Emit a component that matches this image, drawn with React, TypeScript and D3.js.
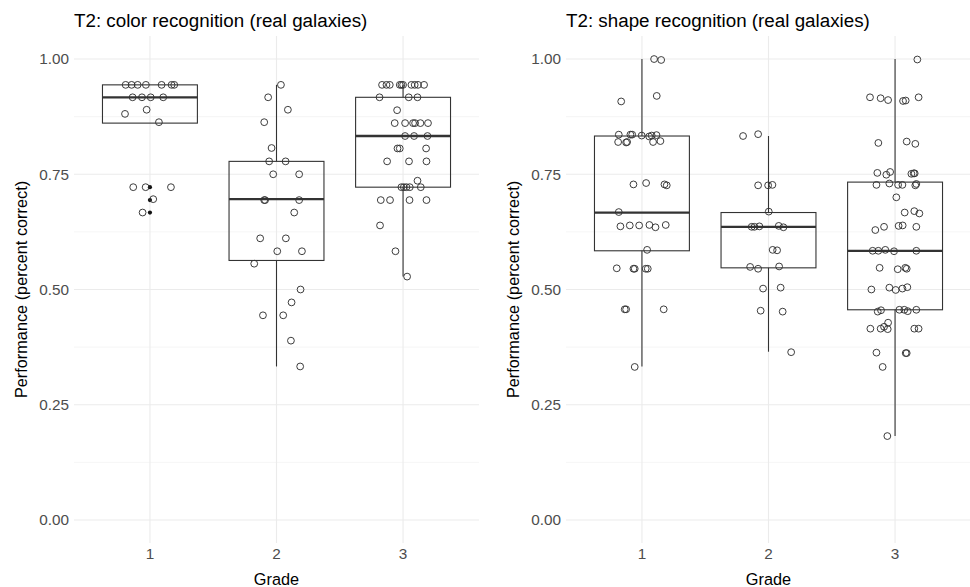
import React, { useEffect, useRef } from "react";
import * as d3 from "d3";

const grades = [1, 2, 3];
const yTicks = [0, 0.25, 0.5, 0.75, 1];
const yMinor = [0.125, 0.375, 0.625, 0.875];

// points: [jittered grade, performance]
const colorG1 = [
  [0.808, 0.944], [0.855, 0.944], [0.903, 0.944], [0.968, 0.944], [1.092, 0.944], [1.171, 0.944], [1.192, 0.944],
  [0.863, 0.917], [0.937, 0.917], [1.006, 0.917], [1.105, 0.917],
  [0.803, 0.881], [0.974, 0.89], [1.071, 0.863],
  [0.868, 0.722], [0.966, 0.722], [1.166, 0.722], [1.026, 0.696], [0.942, 0.667],
];
const colorG2 = [
  [2.035, 0.944], [1.934, 0.917], [2.09, 0.89], [1.903, 0.863], [1.961, 0.807],
  [1.942, 0.778], [2.072, 0.778], [1.974, 0.75], [2.179, 0.75],
  [1.903, 0.694], [1.91, 0.694], [2.179, 0.694], [2.14, 0.667],
  [1.871, 0.611], [2.074, 0.611], [2.006, 0.583], [2.201, 0.583], [1.824, 0.556],
  [2.19, 0.5], [2.119, 0.472], [1.893, 0.444], [2.053, 0.444], [2.114, 0.389], [2.187, 0.333],
];
const colorG3 = [
  [2.834, 0.944], [2.869, 0.944], [2.895, 0.944], [2.974, 0.944], [2.987, 0.944],
  [3.0, 0.944], [3.066, 0.944], [3.092, 0.944], [3.118, 0.944], [3.166, 0.944],
  [2.814, 0.917], [3.045, 0.917], [3.114, 0.917], [2.953, 0.889],
  [2.934, 0.861], [3.016, 0.861], [3.079, 0.861], [3.095, 0.861], [3.137, 0.861], [3.197, 0.861],
  [3.016, 0.833], [3.087, 0.833], [3.193, 0.833],
  [2.956, 0.806], [2.974, 0.806], [3.182, 0.806],
  [2.874, 0.778], [3.047, 0.778], [3.185, 0.778], [3.114, 0.736],
  [2.987, 0.722], [3.006, 0.722], [3.027, 0.722], [3.053, 0.722], [3.14, 0.722],
  [2.824, 0.694], [2.897, 0.694], [3.051, 0.694], [3.185, 0.694],
  [2.818, 0.639], [2.94, 0.583], [3.032, 0.528],
];
const colorOutliers = [[1, 0.722], [1, 0.694], [1, 0.667]];

const shapeG1 = [
  [1.096, 1.0], [1.152, 0.998], [1.117, 0.92], [0.836, 0.908],
  [0.817, 0.836], [0.909, 0.836], [0.923, 0.836], [0.998, 0.834], [1.057, 0.832], [1.077, 0.834], [1.115, 0.835],
  [0.812, 0.82], [0.875, 0.819], [0.883, 0.82], [1.088, 0.82], [1.146, 0.822],
  [0.933, 0.728], [1.033, 0.731], [1.178, 0.728], [1.196, 0.726],
  [0.817, 0.668],
  [0.83, 0.637], [0.904, 0.639], [0.978, 0.639], [1.059, 0.64], [1.107, 0.635], [1.188, 0.64],
  [1.041, 0.586],
  [0.801, 0.546], [0.933, 0.545], [0.943, 0.545], [1.03, 0.545], [1.046, 0.545],
  [0.864, 0.457], [0.875, 0.457], [1.172, 0.457], [0.943, 0.332],
];
const shapeG2 = [
  [1.799, 0.833], [1.918, 0.837],
  [1.918, 0.726], [1.997, 0.726], [2.031, 0.727], [2.002, 0.669],
  [1.867, 0.636], [1.889, 0.636], [1.928, 0.637], [2.081, 0.638], [2.118, 0.635],
  [2.033, 0.586], [2.068, 0.585],
  [1.855, 0.549], [1.918, 0.545], [2.084, 0.55],
  [1.957, 0.502], [2.096, 0.504], [1.938, 0.454], [2.112, 0.452], [2.179, 0.364],
];
const shapeG3 = [
  [3.176, 0.999],
  [2.802, 0.917], [2.886, 0.915], [2.945, 0.911], [3.063, 0.909], [3.084, 0.91], [3.186, 0.917],
  [2.868, 0.818], [3.092, 0.821], [3.16, 0.816],
  [2.86, 0.753], [2.931, 0.749], [2.961, 0.755], [3.129, 0.751], [3.147, 0.752], [3.155, 0.752],
  [2.853, 0.727], [2.955, 0.73], [3.024, 0.727], [3.058, 0.727], [3.16, 0.726], [3.168, 0.729],
  [3.01, 0.7], [3.076, 0.667], [3.152, 0.67], [3.192, 0.665],
  [2.844, 0.629], [2.913, 0.636], [3.028, 0.638], [3.06, 0.639], [3.168, 0.636],
  [2.823, 0.584], [2.868, 0.584], [2.923, 0.586], [2.992, 0.583], [3.168, 0.584],
  [2.878, 0.547], [3.021, 0.544], [3.081, 0.547], [3.092, 0.545],
  [2.813, 0.5], [2.955, 0.504], [3.005, 0.499], [3.058, 0.502], [3.097, 0.505],
  [2.863, 0.452], [2.889, 0.455], [3.034, 0.456], [3.073, 0.456], [3.1, 0.453], [3.168, 0.456],
  [2.805, 0.415], [2.886, 0.415], [2.913, 0.419], [2.945, 0.428], [2.942, 0.414], [3.152, 0.415], [3.186, 0.415],
  [2.853, 0.363], [3.084, 0.362], [3.092, 0.362], [2.902, 0.332], [2.939, 0.182],
];

// [lower whisker, q1, median, q3, upper whisker] per grade
const colorBoxes = [
  [0.861, 0.861, 0.917, 0.944, 0.944],
  [0.333, 0.563, 0.696, 0.778, 0.944],
  [0.528, 0.722, 0.833, 0.917, 0.944],
];
const shapeBoxes = [
  [0.333, 0.584, 0.667, 0.833, 1.0],
  [0.365, 0.547, 0.636, 0.667, 0.833],
  [0.182, 0.456, 0.584, 0.733, 1.0],
];

const panels = [
  { title: "T2: color recognition (real galaxies)", left: 74, points: [...colorG1, ...colorG2, ...colorG3], outliers: colorOutliers, boxes: colorBoxes },
  { title: "T2: shape recognition (real galaxies)", left: 566, points: [...shapeG1, ...shapeG2, ...shapeG3], outliers: [], boxes: shapeBoxes },
];

export default function App() {
  const ref = useRef<SVGSVGElement>(null);

  useEffect(() => {
    const svg = d3.select(ref.current);
    svg.selectAll("*").remove();
    const width = 405;
    const top = 36;
    const bottom = 543;
    const font = "'Liberation Sans', Arial, sans-serif";

    const y = d3.scaleLinear().domain([-0.05, 1.05]).range([bottom, top]);

    panels.forEach((p) => {
      const x = d3.scaleLinear().domain([0.4, 3.6]).range([p.left, p.left + width]);
      const g = svg.append("g");

      // grid
      g.selectAll(".minor").data(yMinor).enter().append("line")
        .attr("x1", p.left).attr("x2", p.left + width)
        .attr("y1", d => y(d)).attr("y2", d => y(d))
        .attr("stroke", "#f3f3f3").attr("stroke-width", 0.8);
      g.selectAll(".major").data(yTicks).enter().append("line")
        .attr("x1", p.left).attr("x2", p.left + width)
        .attr("y1", d => y(d)).attr("y2", d => y(d))
        .attr("stroke", "#ebebeb").attr("stroke-width", 1.1);
      g.selectAll(".vgrid").data(grades).enter().append("line")
        .attr("x1", d => x(d)).attr("x2", d => x(d))
        .attr("y1", top).attr("y2", bottom)
        .attr("stroke", "#ebebeb").attr("stroke-width", 1.1);

      // tick labels
      g.selectAll(".ylab").data(yTicks).enter().append("text")
        .attr("x", p.left - 5).attr("y", d => y(d)).attr("dy", "0.35em")
        .attr("text-anchor", "end").attr("font-family", font).attr("font-size", 15.3)
        .attr("fill", "#4d4d4d").text(d => d.toFixed(2));
      g.selectAll(".xlab").data(grades).enter().append("text")
        .attr("x", d => x(d)).attr("y", 559)
        .attr("text-anchor", "middle").attr("font-family", font).attr("font-size", 15.3)
        .attr("fill", "#4d4d4d").text(d => String(d));

      // titles
      g.append("text").attr("x", p.left).attr("y", 27)
        .attr("font-family", font).attr("font-size", 18.8).attr("fill", "#000").text(p.title);
      g.append("text").attr("x", p.left + width / 2).attr("y", 585)
        .attr("text-anchor", "middle").attr("font-family", font).attr("font-size", 16.3)
        .attr("fill", "#000").text("Grade");
      g.append("text")
        .attr("transform", `translate(${p.left - 47},${(top + bottom) / 2}) rotate(-90)`)
        .attr("text-anchor", "middle").attr("font-family", font).attr("font-size", 16.3)
        .attr("fill", "#000").text("Performance (percent correct)");

      // boxplots
      const bw = 0.75;
      p.boxes.forEach((b, i) => {
        const gr = grades[i];
        const [lo, q1, med, q3, hi] = b;
        g.append("line").attr("x1", x(gr)).attr("x2", x(gr)).attr("y1", y(q3)).attr("y2", y(hi))
          .attr("stroke", "#333").attr("stroke-width", 1.1);
        g.append("line").attr("x1", x(gr)).attr("x2", x(gr)).attr("y1", y(q1)).attr("y2", y(lo))
          .attr("stroke", "#333").attr("stroke-width", 1.1);
        g.append("rect")
          .attr("x", x(gr - bw / 2)).attr("width", x(gr + bw / 2) - x(gr - bw / 2))
          .attr("y", y(q3)).attr("height", y(q1) - y(q3))
          .attr("fill", "none").attr("stroke", "#333").attr("stroke-width", 1.1);
        g.append("line").attr("x1", x(gr - bw / 2)).attr("x2", x(gr + bw / 2))
          .attr("y1", y(med)).attr("y2", y(med))
          .attr("stroke", "#333").attr("stroke-width", 2.3);
      });

      g.selectAll(".out").data(p.outliers).enter().append("circle")
        .attr("cx", d => x(d[0])).attr("cy", d => y(d[1])).attr("r", 2.1)
        .attr("fill", "#111");

      g.selectAll(".pt").data(p.points).enter().append("circle")
        .attr("cx", d => x(d[0])).attr("cy", d => y(d[1])).attr("r", 3.4)
        .attr("fill", "none").attr("stroke", "#333").attr("stroke-width", 0.95);
    });
  }, []);

  return (
    <svg ref={ref} width={970} height={587}
      style={{ position: "absolute", left: 0, top: 0, background: "#fff" }} />
  );
}
